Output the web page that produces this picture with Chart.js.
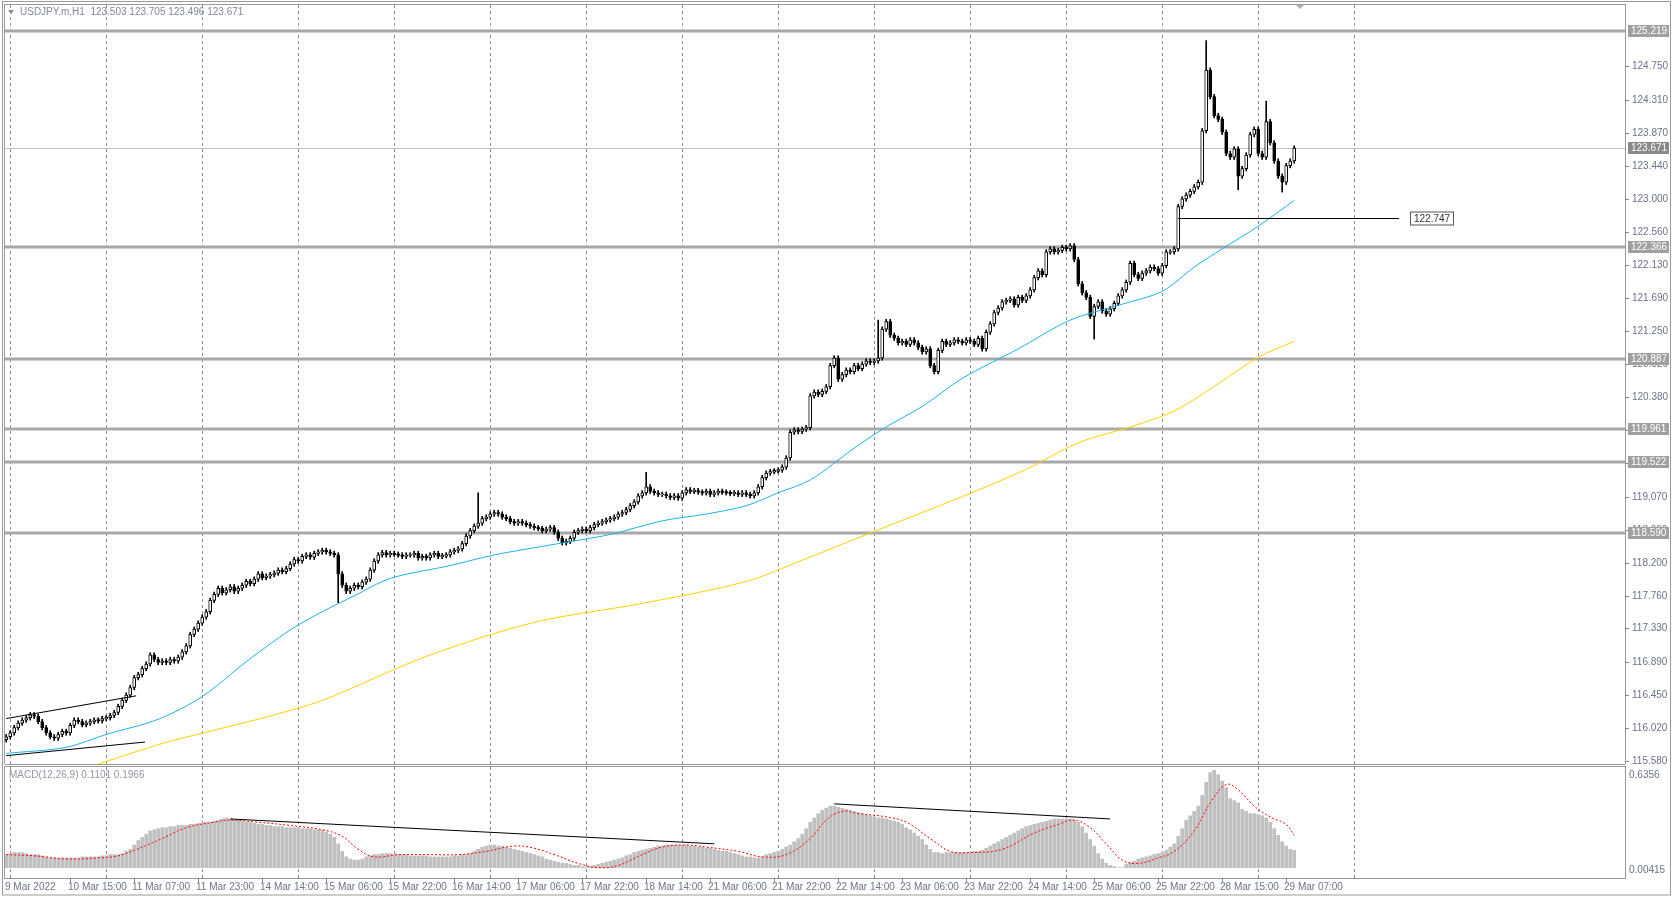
<!DOCTYPE html>
<html><head><meta charset="utf-8">
<script src="https://cdn.jsdelivr.net/npm/chart.js@4.4.1/dist/chart.umd.min.js"></script>
<style>
html,body{margin:0;padding:0;background:#fff;width:1673px;height:897px;overflow:hidden}
#c1{position:absolute;left:0;top:0}
#c2{position:absolute;left:0;top:764px}
</style></head><body>
<canvas id="c1" width="1673" height="770" style="width:1673px;height:770px"></canvas>
<canvas id="c2" width="1673" height="133" style="width:1673px;height:133px"></canvas>
<script>
const symbolTitle = "USDJPY.m,H1  123.503 123.705 123.496 123.671";
const macdTitle = "MACD(12,26,9) 0.1101 0.1966";
const firstOpen = 115.86;
const closes = [
115.90,115.95,116.02,116.08,116.12,116.15,116.19,116.17,
116.10,116.02,115.95,115.90,115.88,115.93,115.97,115.95,
116.05,116.12,116.10,116.06,116.08,116.10,116.12,116.11,
116.14,116.15,116.18,116.22,116.30,116.38,116.45,116.55,
116.68,116.72,116.80,116.86,116.98,116.92,116.88,116.90,
116.88,116.92,116.90,116.95,117.02,117.10,117.25,117.32,
117.40,117.48,117.55,117.70,117.78,117.86,117.80,117.84,
117.88,117.82,117.86,117.90,117.95,117.92,117.98,118.05,
118.00,118.02,118.04,118.06,118.10,118.08,118.12,118.18,
118.24,118.22,118.28,118.30,118.27,118.32,118.34,118.36,
118.34,118.32,118.30,118.05,117.90,117.82,117.86,117.90,
117.88,117.94,117.98,118.10,118.22,118.30,118.33,118.30,
118.32,118.31,118.30,118.28,118.30,118.30,118.32,118.26,
118.28,118.26,118.30,118.32,118.28,118.29,118.30,118.34,
118.36,118.38,118.45,118.55,118.62,118.68,118.72,118.78,
118.80,118.84,118.86,118.84,118.80,118.78,118.74,118.72,
118.74,118.72,118.70,118.68,118.66,118.65,118.62,118.64,
118.66,118.60,118.52,118.46,118.48,118.52,118.60,118.62,
118.64,118.62,118.66,118.70,118.72,118.74,118.76,118.78,
118.80,118.84,118.86,118.90,118.95,119.00,119.08,119.12,
119.20,119.14,119.12,119.10,119.10,119.08,119.06,119.08,
119.05,119.12,119.16,119.14,119.15,119.13,119.12,119.14,
119.10,119.12,119.14,119.13,119.12,119.11,119.12,119.10,
119.12,119.10,119.08,119.12,119.20,119.32,119.38,119.40,
119.41,119.42,119.46,119.58,119.92,119.95,119.93,119.96,
119.98,120.40,120.45,120.42,120.46,120.52,120.80,120.90,
120.62,120.68,120.74,120.72,120.80,120.76,120.82,120.86,
120.84,120.86,120.90,121.28,121.38,121.20,121.16,121.10,
121.12,121.08,121.14,121.10,121.04,120.98,121.02,120.80,
120.72,121.00,121.12,121.08,121.10,121.14,121.12,121.10,
121.14,121.12,121.08,121.16,121.02,121.24,121.35,121.50,
121.56,121.64,121.66,121.68,121.60,121.70,121.66,121.72,
121.80,121.96,122.05,122.00,122.30,122.34,122.30,122.32,
122.36,122.34,122.38,122.20,121.88,121.76,121.70,121.45,
121.58,121.64,121.52,121.48,121.55,121.62,121.72,121.80,
121.90,122.15,122.00,121.95,122.02,122.05,122.10,122.08,
122.02,122.12,122.30,122.30,122.34,122.90,123.00,123.05,
123.10,123.16,123.22,123.90,124.70,124.35,124.10,124.05,
123.88,123.60,123.55,123.66,123.30,123.40,123.58,123.85,
123.92,123.60,123.55,124.02,123.74,123.50,123.30,123.22,
123.44,123.50,123.67];
const spikeBars = [83,118,160,218,272,300,308,315,319];
const spikeHigh = [null,119.12,119.39,121.40,null,125.09,null,124.29,null];
const spikeLow  = [117.67,null,null,null,121.15,null,123.12,null,123.09];

const ma50Bars = [0,15,25,38,49,60,71,79,87,96,111,122,137,151,164,175,185,193,201,212,220,229,239,253,266,279,289,297,304,313,322];
const ma50Vals = [115.68,115.76,115.93,116.13,116.43,116.89,117.31,117.55,117.76,117.99,118.16,118.30,118.44,118.57,118.75,118.84,118.95,119.12,119.29,119.71,119.99,120.26,120.63,121.02,121.40,121.61,121.78,122.10,122.34,122.64,122.98];
const ma200Bars = [23,39,53,65,79,105,132,159,185,199,217,239,255,268,281,292,303,313,322];
const ma200Vals = [115.54,115.81,116.00,116.16,116.38,116.96,117.41,117.66,117.95,118.23,118.61,119.07,119.43,119.78,119.99,120.20,120.56,120.91,121.12];

const priceTicks = [124.750,124.310,123.870,123.440,123.000,122.560,122.130,121.690,121.250,120.820,120.380,119.950,119.510,119.070,118.630,118.200,117.760,117.330,116.890,116.450,116.020,115.580];
const levels = [125.219,122.366,120.887,119.961,119.522,118.590];
const currentPrice = 123.671;
const markLevel = 122.747;
const markFromBar = 293;

const channelUpper = [[0,116.14],[32.5,116.44]];
const channelLower = [[0,115.65],[34.7,115.83]];

const macdHist = [
.088,.095,.102,.102,.102,.095,.088,.088,
.088,.080,.073,.066,.066,.066,.066,.066,
.066,.066,.066,.073,.073,.073,.073,.073,
.080,.080,.088,.088,.088,.095,.110,.124,
.153,.183,.204,.226,.248,.256,.263,.270,
.270,.277,.277,.285,.285,.285,.292,.292,
.299,.299,.307,.307,.314,.321,.329,.336,
.329,.321,.321,.314,.307,.307,.299,.292,
.292,.285,.285,.277,.277,.277,.270,.270,
.270,.270,.263,.263,.263,.256,.256,.256,
.241,.226,.204,.161,.110,.073,.058,.051,
.051,.058,.073,.080,.088,.088,.095,.095,
.095,.088,.088,.088,.088,.080,.080,.080,
.080,.080,.073,.073,.073,.073,.073,.073,
.080,.080,.088,.088,.095,.110,.124,.139,
.146,.153,.153,.146,.146,.139,.131,.124,
.117,.110,.102,.095,.088,.080,.073,.058,
.051,.044,.037,.029,.029,.022,.015,.015,
.007,.007,.007,.015,.022,.029,.037,.044,
.051,.058,.066,.080,.088,.102,.110,.117,
.124,.131,.139,.146,.146,.153,.153,.153,
.153,.153,.153,.146,.146,.139,.139,.131,
.131,.124,.117,.110,.110,.102,.095,.088,
.080,.073,.073,.066,.066,.073,.088,.095,
.102,.110,.124,.139,.153,.175,.197,.226,
.263,.307,.336,.365,.387,.402,.416,.416,
.409,.402,.394,.387,.380,.372,.365,.358,
.350,.343,.336,.336,.329,.321,.314,.307,
.292,.270,.256,.234,.212,.190,.153,.124,
.102,.102,.095,.102,.102,.102,.102,.102,
.102,.102,.110,.110,.117,.131,.146,.161,
.175,.190,.204,.219,.234,.248,.263,.277,
.285,.292,.299,.307,.314,.321,.329,.329,
.329,.329,.329,.321,.307,.277,.234,.190,
.146,.095,.058,.029,.015,.007,0,0,
.022,.037,.044,.058,.066,.073,.080,.088,
.095,.102,.117,.139,.161,.212,.263,.321,
.350,.380,.416,.489,.577,.642,.657,.628,
.584,.540,.467,.453,.438,.394,.380,.365,
.365,.358,.350,.336,.307,.263,.219,.175,
.146,.124,.117];
const signalBars = [0,7,15,23,28,32,39,45,52,56,63,71,79,84,88,92,98,105,113,120,127,132,137,143,148,153,159,164,170,175,183,189,195,201,205,209,213,220,225,231,236,241,249,257,263,267,271,275,279,283,288,292,297,301,305,308,312,316,320,322];
const signalVals = [.088,.080,.058,.066,.080,.117,.197,.270,.307,.321,.307,.285,.256,.212,.124,.073,.088,.088,.088,.110,.146,.131,.088,.029,0,.015,.088,.139,.153,.139,.110,.073,.088,.197,.321,.380,.365,.343,.307,.197,.110,.102,.124,.234,.292,.321,.270,.161,.051,.029,.066,.110,.248,.438,.562,.526,.416,.343,.292,.219];
const macdTrend1 = [[56,.329],[177,.161]];
const macdTrend2 = [[207,.431],[276,.329]];
const macdTopLabel = "0.6356";
const macdBottomLabel = "0.00415";

const dateLabels = ["10 Mar 15:00","11 Mar 07:00","11 Mar 23:00","14 Mar 14:00","15 Mar 06:00","15 Mar 22:00","16 Mar 14:00","17 Mar 06:00","17 Mar 22:00","18 Mar 14:00","21 Mar 06:00","21 Mar 22:00","22 Mar 14:00","23 Mar 06:00","23 Mar 22:00","24 Mar 14:00","25 Mar 06:00","25 Mar 22:00","28 Mar 15:00","29 Mar 07:00"];
const firstDateLabel = "9 Mar 2022";

// ---- derived structures ----
const N = closes.length;
const opens = closes.map((c,i)=> i===0 ? firstOpen : closes[i-1]);
const highs = closes.map((c,i)=> Math.max(c,opens[i]) + 0.03);
const lows  = closes.map((c,i)=> Math.min(c,opens[i]) - 0.03);
spikeBars.forEach((b,k)=>{ if(spikeHigh[k]!=null) highs[b]=spikeHigh[k]; if(spikeLow[k]!=null) lows[b]=spikeLow[k]; });
const bodies = closes.map((c,i)=>{let a=Math.min(c,opens[i]),b=Math.max(c,opens[i]); if(b-a<0.012){a-=0.006;b+=0.006;} return {x:i,y:[a,b]};});
const bodyColors = closes.map((c,i)=> c>=opens[i] ? '#ffffff' : '#000000');
const wicks = closes.map((c,i)=>({x:i,y:[lows[i],highs[i]]}));

const XMIN=-0.3, XMAX=404.7;
const gridBars=[]; for(let b=1;b<=340;b+=24) gridBars.push(b);
const FONT='10px "Liberation Sans", Arial, sans-serif';
const LBL='#6b7488';

function xScale(){return {type:'linear',min:XMIN,max:XMAX,display:true,offset:false,bounds:'ticks',
  grid:{display:true,color:'#8c8c8c',lineWidth:1,tickLength:0,drawTicks:false,offset:false},
  border:{display:false,dash:[3,3]},
  ticks:{display:false},
  afterBuildTicks:(s)=>{s.ticks=gridBars.map(v=>({value:v}));}
};}

const framePlugin = {
  id:'frame',
  beforeDraw(chart){
    const {ctx}=chart; ctx.save(); ctx.fillStyle='#fff'; ctx.fillRect(0,0,chart.width,chart.height); ctx.restore();
  }
};

const pricePlugin = {
  id:'priceOverlay',
  beforeDatasetsDraw(chart){
    const {ctx,chartArea:a,scales:{x,y}}=chart;
    ctx.save();
    ctx.beginPath(); ctx.rect(a.left,a.top,a.right-a.left,a.bottom-a.top); ctx.clip();
    ctx.strokeStyle='#c0c0c0'; ctx.lineWidth=1;
    let py=Math.round(y.getPixelForValue(currentPrice))+0.5;
    ctx.beginPath(); ctx.moveTo(a.left,py); ctx.lineTo(a.right,py); ctx.stroke();
    ctx.strokeStyle='#a8a8a8'; ctx.lineWidth=3;
    levels.forEach(l=>{const yy=Math.round(y.getPixelForValue(l)); ctx.beginPath(); ctx.moveTo(a.left,yy); ctx.lineTo(a.right,yy); ctx.stroke();});
    ctx.restore();
  },
  afterDatasetsDraw(chart){
    const {ctx,chartArea:a,scales:{x,y}}=chart;
    ctx.save();
    ctx.strokeStyle='#000'; ctx.lineWidth=1;
    [channelUpper,channelLower].forEach(l=>{ctx.beginPath(); ctx.moveTo(x.getPixelForValue(l[0][0]),y.getPixelForValue(l[0][1])); ctx.lineTo(x.getPixelForValue(l[1][0]),y.getPixelForValue(l[1][1])); ctx.stroke();});
    const my=Math.round(y.getPixelForValue(markLevel))+0.5;
    const mx0=x.getPixelForValue(markFromBar), mx1=1399;
    ctx.beginPath(); ctx.moveTo(mx0,my); ctx.lineTo(mx1,my); ctx.stroke();
    ctx.font=FONT; ctx.fillStyle='#fff'; ctx.strokeStyle='#555';
    ctx.fillRect(1410,my-7,44,14); ctx.strokeRect(1410.5,my-6.5,43,13);
    ctx.fillStyle='#333'; ctx.textBaseline='middle'; ctx.fillText(markLevel.toFixed(3),1414,my+1);
    ctx.strokeStyle='#9a9a9a'; ctx.lineWidth=1;
    ctx.strokeRect(a.left-0.5,a.top-0.5,a.right-a.left+1,a.bottom-a.top+1);
    ctx.strokeRect(2.5,1.5,chart.width-5,chart.height+200);
    ctx.textBaseline='middle'; ctx.textAlign='left';
    priceTicks.forEach(t=>{const yy=Math.round(y.getPixelForValue(t)); ctx.strokeStyle='#888'; ctx.beginPath(); ctx.moveTo(a.right,yy+0.5); ctx.lineTo(a.right+4,yy+0.5); ctx.stroke(); ctx.fillStyle=LBL; ctx.fillText(t.toFixed(3),a.right+7,yy);});
    [...levels,currentPrice].forEach(l=>{const yy=Math.round(y.getPixelForValue(l)); ctx.fillStyle= l===currentPrice? '#8a8a8a':'#a0a0a0'; ctx.fillRect(a.right+3,yy-6,41,12); ctx.fillStyle='#fff'; ctx.fillText(l.toFixed(3),a.right+6,yy+0.5);});
    ctx.fillStyle='#8a8a8a'; ctx.beginPath(); ctx.moveTo(8,10); ctx.lineTo(14,10); ctx.lineTo(11,14); ctx.closePath(); ctx.fill();
    ctx.fillStyle='#7f8799'; ctx.fillText(symbolTitle,20,12);
    ctx.fillStyle='#b0b0b0'; ctx.beginPath(); ctx.moveTo(1296,5); ctx.lineTo(1304,5); ctx.lineTo(1300,9); ctx.closePath(); ctx.fill();
    ctx.restore();
  }
};

new Chart(document.getElementById('c1'),{
  type:'bar',
  data:{datasets:[
    {type:'bar',data:bodies,backgroundColor:bodyColors,borderColor:'#000',borderWidth:1,borderSkipped:false,barThickness:3,grouped:false,order:1},
    {type:'bar',data:wicks,backgroundColor:'#000',borderWidth:0,barThickness:1,grouped:false,order:2},
    {type:'line',data:ma50Bars.map((b,i)=>({x:b,y:ma50Vals[i]})),borderColor:'#1ab2f0',borderWidth:1,pointRadius:0,tension:0.3,order:0},
    {type:'line',data:ma200Bars.map((b,i)=>({x:b,y:ma200Vals[i]})),borderColor:'#ffd200',borderWidth:1,pointRadius:0,tension:0.3,order:0}
  ]},
  options:{responsive:false,animation:false,devicePixelRatio:1,
    layout:{padding:{left:5,right:48,top:5,bottom:6}},
    plugins:{legend:{display:false},tooltip:{enabled:false}},
    scales:{x:xScale(),y:{type:'linear',min:115.54,max:125.56,display:false}}
  },
  plugins:[framePlugin,pricePlugin]
});

const macdPlugin = {
  id:'macdOverlay',
  afterDatasetsDraw(chart){
    const {ctx,chartArea:a,scales:{x,y}}=chart;
    ctx.save();
    ctx.strokeStyle='#000'; ctx.lineWidth=1;
    [macdTrend1,macdTrend2].forEach(l=>{ctx.beginPath(); ctx.moveTo(x.getPixelForValue(l[0][0]),y.getPixelForValue(l[0][1])); ctx.lineTo(x.getPixelForValue(l[1][0]),y.getPixelForValue(l[1][1])); ctx.stroke();});
    ctx.strokeStyle='#9a9a9a';
    ctx.strokeRect(a.left-0.5,a.top-0.5,a.right-a.left+1,a.bottom-a.top+1);
    ctx.beginPath(); ctx.moveTo(a.left,0.5); ctx.lineTo(a.right,0.5); ctx.stroke();
    ctx.strokeRect(2.5,-10,chart.width-5,chart.height+8);
    ctx.font=FONT; ctx.textBaseline='middle'; ctx.fillStyle='#8f96a6';
    ctx.fillText(macdTitle,9,a.top+8);
    ctx.fillStyle=LBL;
    ctx.fillText(macdTopLabel,a.right+4,a.top+8);
    ctx.fillText(macdBottomLabel,a.right+4,a.bottom-8);
    ctx.textBaseline='top'; ctx.fillStyle=LBL;
    ctx.fillText(firstDateLabel,5,a.bottom+4);
    dateLabels.forEach((d,k)=>{const px=Math.round(x.getPixelForValue(16*(k+1))); ctx.strokeStyle='#888'; ctx.beginPath(); ctx.moveTo(px+0.5,a.bottom); ctx.lineTo(px+0.5,a.bottom+4); ctx.stroke(); ctx.fillText(d,px-2,a.bottom+4);});
    ctx.restore();
  }
};

new Chart(document.getElementById('c2'),{
  type:'bar',
  data:{datasets:[
    {type:'line',data:signalBars.map((b,i)=>({x:b,y:signalVals[i]})),borderColor:'#ff0000',borderWidth:1,borderDash:[2,2],pointRadius:0,tension:0.4,order:0},
    {type:'bar',data:macdHist.map((v,i)=>({x:i,y:v})),backgroundColor:'#c0c0c0',borderWidth:0,barThickness:3,grouped:false,order:1}
  ]},
  options:{responsive:false,animation:false,devicePixelRatio:1,
    layout:{padding:{left:5,right:48,top:3,bottom:19}},
    plugins:{legend:{display:false},tooltip:{enabled:false}},
    scales:{x:xScale(),y:{type:'linear',min:-0.07,max:0.68,display:false}}
  },
  plugins:[framePlugin,macdPlugin]
});
</script>
</body></html>
